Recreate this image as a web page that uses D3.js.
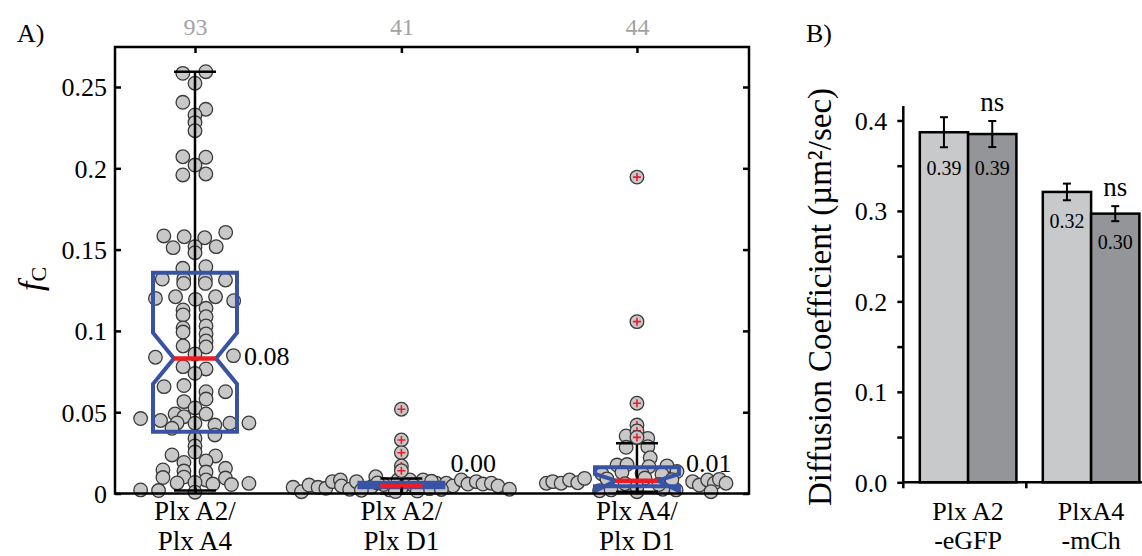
<!DOCTYPE html>
<html>
<head>
<meta charset="utf-8">
<script src="https://cdn.jsdelivr.net/npm/d3@7"></script>
<style>
  html, body { margin: 0; padding: 0; background: #fff; }
  svg { display: block; font-family: "Liberation Serif", "Times New Roman", serif; }
</style>
</head>
<body>
<svg id="chart" width="1142" height="556"></svg>
<script>
// ---- panel A : f_c per pair ----
const catLinesA = [["Plx A2/", "Plx A4"], ["Plx A2/", "Plx D1"], ["Plx A4/", "Plx D1"]];
const countsA = [93, 41, 44];
const posA = [1, 1.934, 3];
const medLabelsA = ["0.08", "0.00", "0.01"];
const yTicksA = [0, 0.05, 0.1, 0.15, 0.2, 0.25];

const q1A = [0.0380, 0.0038, 0.0045];
const q3A = [0.1358, 0.0066, 0.0162];
const medA = [0.0831, 0.0046, 0.0079];
const notchLoA = [0.0673, 0.0040, 0.0015];
const notchHiA = [0.0989, 0.0052, 0.0120];
const whiskLoA = [0.0018, 0, 0.0011];
const whiskHiA = [0.2594, 0.0093, 0.0309];

// [offset from group position (x units), f_c]
const pointsA1 = [
  [-0.055,0.2584],[0.049,0.2594],[0,0.2523],[-0.055,0.2406],[0.049,0.2363],[0,0.2328],[0,0.2281],[0,0.2231],
  [-0.055,0.2071],[0.049,0.2068],[0,0.2020],[-0.055,0.1959],[0.049,0.1965],
  [-0.141,0.1584],[-0.049,0.1579],[0.044,0.1573],[0.139,0.1606],[-0.099,0.1512],[0,0.1518],[0,0.1481],[0.096,0.1518],
  [-0.055,0.1385],[0.049,0.1395],
  [-0.148,0.1319],[-0.051,0.1319],[0.047,0.1319],[0.138,0.1313],[-0.051,0.1292],[0.047,0.1292],
  [-0.179,0.1200],[-0.088,0.1210],[0.002,0.1194],[0.093,0.1210],[0.175,0.1186],
  [-0.054,0.1129],[-0.054,0.1098],[-0.054,0.1018],[-0.054,0.0993],[-0.054,0.0907],
  [0.050,0.1139],[0.050,0.1087],[0.050,0.1030],[0.050,0.0981],[0.050,0.0938],[0.050,0.0901],
  [-0.179,0.0838],[0.174,0.0848],[-0.054,0.0780],[0.050,0.0766],[0,0.0739],[0,0.0858],
  [-0.140,0.0657],[-0.050,0.0664],[0.050,0.0626],[0.050,0.0581],[0.138,0.0626],[-0.050,0.0565],[0,0.0526],
  [-0.090,0.0489],[-0.050,0.0472],[0.050,0.0489],[-0.246,0.0461],[-0.156,0.0449],[-0.081,0.0434],[0,0.0432],
  [0.090,0.0421],[0.158,0.0432],[0.244,0.0434],[-0.104,0.0401],[0.090,0.0360],
  [0,0.0339],[0,0.0292],[0,0.0255],[-0.104,0.0237],[0.093,0.0231],[-0.050,0.0191],[0.050,0.0200],
  [-0.145,0.0145],[-0.050,0.0138],[0.050,0.0132],[0.138,0.0155],
  [-0.145,0.0098],[-0.050,0.0101],[0.050,0.0083],[0.138,0.0095],
  [-0.246,0.0022],[-0.165,0.0018],[-0.081,0.0065],[0,0.0068],[0.081,0.0058],[0.165,0.0055],[0.244,0.0062],
  [0,0.0008]
];
const pointsA2 = [
  [-0.490,0.0038],[-0.452,0.0011],[-0.418,0.0052],[-0.377,0.0038],[-0.342,0.0032],[-0.312,0.0073],
  [-0.276,0.0083],[-0.271,0.0046],[-0.234,0.0026],[-0.203,0.0073],[-0.116,0.0103],[-0.053,0.0022],
  [-0.015,0.0083],[0.038,0.0083],[0.098,0.0083],[0.158,0.0063],[0.203,0.0063],[0.233,0.0046],
  [0.271,0.0083],[0.301,0.0058],[0.339,0.0073],[0.369,0.0058],[0.407,0.0063],[0.437,0.0046],[0.489,0.0026],
  [-0.136,0.0040],[-0.081,0.0055],[0,0.0035],[0.054,0.0050],[0.127,0.0030],[-0.181,0.0020],
  [0.181,0.0025],[-0.027,0.0012],[0.072,0.0015],[-0.108,0.0065],[0.136,0.0075]
];
const pointsA3 = [
  [-0.049,0.0354],[0.049,0.0339],[-0.049,0.0284],[0.049,0.0288],[0.060,0.0220],
  [-0.090,0.0175],[-0.045,0.0178],[0.054,0.0165],[0.136,0.0170],
  [-0.158,0.0120],[-0.068,0.0130],[0.023,0.0125],[0.113,0.0118],[0.181,0.0135],
  [-0.410,0.0063],[-0.381,0.0073],[-0.343,0.0063],[-0.305,0.0083],[-0.268,0.0066],[-0.237,0.0093],
  [0.252,0.0073],[0.282,0.0052],[0.320,0.0083],[0.350,0.0063],[0.373,0.0087],[0.403,0.0063],[0.335,0.0011],
  [-0.169,0.0017],[-0.117,0.0022],[0,0.0011],[0.177,0.0022],[0.117,0.0026],
  [-0.136,0.0090],[-0.054,0.0060],[0.036,0.0095],[0.099,0.0055],[0.158,0.0085],[0,0.0040]
];
const pointsA = [pointsA1, pointsA2, pointsA3];
const outliersA = [[], [0.0518, 0.0329, 0.0251, 0.0169, 0.0140], [0.1946, 0.1057, 0.0555, 0.0421, 0.0385, 0.0345]];

// ---- panel B : diffusion coefficient ----
const catLinesB = [["Plx A2", "-eGFP"], ["PlxA4", "-mCh"]];
const valuesB = [[0.387, 0.385], [0.321, 0.297]];
const errorsB = [[0.0166, 0.0144], [0.0092, 0.0083]];
const labelsB = [["0.39", "0.39"], ["0.32", "0.30"]];
const sigB = ["ns", "ns"];
const yTicksB = [0, 0.05, 0.1, 0.15, 0.2, 0.25, 0.3, 0.35, 0.4];

const blue = "#3953a4", red = "#ed1c24";
const barFill = ["#c8c9cb", "#939598"];

const svg = d3.select("#chart");
svg.append("rect").attr("width", 1142).attr("height", 556).attr("fill", "#fff");

// ================= panel A =================
const xA = d3.scaleLinear().domain([0.638, 3.507]).range([115, 749]);
const yA = d3.scaleLinear().domain([0, 0.2746]).range([493.5, 47]);
const halfBox = 0.19, halfNotch = 0.095;

const gA = svg.append("g");

// scatter
pointsA.forEach((pts, i) => {
  gA.append("g").selectAll("circle")
    .data(pts)
    .join("circle")
    .attr("cx", d => xA(posA[i] + d[0]))
    .attr("cy", d => yA(d[1]))
    .attr("r", 6.8)
    .attr("fill", "#c8c8c8")
    .attr("stroke", "#3a3a3a")
    .attr("stroke-width", 1.3);
});

// whiskers
posA.forEach((p, i) => {
  const w = gA.append("g").attr("stroke", "#000").attr("stroke-width", 2.5);
  w.append("line").attr("x1", xA(p)).attr("x2", xA(p))
    .attr("y1", yA(whiskLoA[i])).attr("y2", yA(whiskHiA[i]));
  [whiskLoA[i], whiskHiA[i]].forEach(v => {
    w.append("line").attr("x1", xA(p - halfNotch)).attr("x2", xA(p + halfNotch))
      .attr("y1", yA(v)).attr("y2", yA(v));
  });
});

// notched boxes
posA.forEach((p, i) => {
  const L = xA(p - halfBox), R = xA(p + halfBox);
  const li = xA(p - halfNotch), ri = xA(p + halfNotch);
  const pts = [
    [L, yA(q1A[i])], [L, yA(notchLoA[i])], [li, yA(medA[i])], [L, yA(notchHiA[i])], [L, yA(q3A[i])],
    [R, yA(q3A[i])], [R, yA(notchHiA[i])], [ri, yA(medA[i])], [R, yA(notchLoA[i])], [R, yA(q1A[i])]
  ];
  gA.append("path")
    .attr("d", d3.line()(pts) + "Z")
    .attr("fill", "none")
    .attr("stroke", blue)
    .attr("stroke-width", 4)
    .attr("stroke-linejoin", "miter");
  gA.append("line")
    .attr("x1", li).attr("x2", ri)
    .attr("y1", yA(medA[i])).attr("y2", yA(medA[i]))
    .attr("stroke", red).attr("stroke-width", 4.5);
  gA.append("text")
    .attr("x", R + 7)
    .attr("y", Math.min(yA(medA[i]) + 7, yA(0) - 22))
    .attr("font-size", 26)
    .text(medLabelsA[i]);
});

// outliers
posA.forEach((p, i) => {
  const og = gA.append("g").selectAll("g").data(outliersA[i]).join("g")
    .attr("transform", d => `translate(${xA(p)},${yA(d)})`);
  og.append("circle").attr("r", 6.8).attr("fill", "#c8c8c8")
    .attr("stroke", "#3a3a3a").attr("stroke-width", 1.3);
  og.append("path").attr("d", "M-4,0H4M0,-4V4").attr("stroke", red).attr("stroke-width", 1.6);
});

// frame + axes
gA.append("rect").attr("x", 115).attr("y", 47).attr("width", 634).attr("height", 446.5)
  .attr("fill", "none").attr("stroke", "#000").attr("stroke-width", 2.5);

const axL = gA.append("g").attr("transform", "translate(115,0)")
  .call(d3.axisLeft(yA).tickValues(yTicksA).tickSize(-6).tickSizeOuter(0).tickPadding(8)
    .tickFormat(d => d3.format("~g")(d)));
const axR = gA.append("g").attr("transform", "translate(749,0)")
  .call(d3.axisRight(yA).tickValues(yTicksA).tickSize(-6).tickSizeOuter(0).tickFormat(""));
const axT = gA.append("g").attr("transform", "translate(0,47)")
  .call(d3.axisTop(xA).tickValues(posA).tickSize(-6).tickSizeOuter(0).tickPadding(12)
    .tickFormat((d, i) => countsA[i]));
const axB = gA.append("g").attr("transform", "translate(0,493.5)")
  .call(d3.axisBottom(xA).tickValues(posA).tickSize(-6).tickSizeOuter(0).tickFormat(""));

[axL, axR, axT, axB].forEach(a => {
  a.attr("font-family", null).attr("font-size", 26);
  a.select(".domain").remove();
  a.selectAll(".tick line").attr("stroke", "#000").attr("stroke-width", 2.5);
  a.selectAll("text").attr("fill", "#000");
});
axT.selectAll("text").attr("font-size", 24).attr("fill", "#a3a3a3").attr("dy", 0);
axL.selectAll("text").attr("dy", "0.34em");

posA.forEach((p, i) => {
  const t = gA.append("text").attr("text-anchor", "middle").attr("font-size", 27);
  catLinesA[i].forEach((ln, j) => {
    t.append("tspan").attr("x", xA(p)).attr("y", 520 + j * 30).text(ln);
  });
});

const fc = gA.append("text").attr("transform", "translate(42,279) rotate(-90)").attr("text-anchor", "middle");
fc.append("tspan").attr("font-style", "italic").attr("font-size", 34).text("f");
fc.append("tspan").attr("font-size", 22).attr("dy", 4).text("C");

gA.append("text").attr("x", 17).attr("y", 42).attr("font-size", 26).text("A)");

// ================= panel B =================
const yB = d3.scaleLinear().domain([0, 0.416]).range([482.3, 106]);
const x0 = d3.scaleBand().domain(d3.range(catLinesB.length)).range([903.3, 903.3 + 2 * 123]);
const x1 = d3.scaleBand().domain([0, 1]).range([16.5, 16.5 + 96.6]);

const gB = svg.append("g");

valuesB.forEach((vals, g) => {
  vals.forEach((v, s) => {
    const bx = x0(g) + x1(s);
    const cx = bx + x1.bandwidth() / 2;
    gB.append("rect")
      .attr("x", bx).attr("y", yB(v))
      .attr("width", x1.bandwidth()).attr("height", yB(0) - yB(v))
      .attr("fill", barFill[s]).attr("stroke", "#000").attr("stroke-width", 2.5);
    const e = errorsB[g][s];
    const eg = gB.append("g").attr("stroke", "#000").attr("stroke-width", 2);
    eg.append("line").attr("x1", cx).attr("x2", cx).attr("y1", yB(v - e)).attr("y2", yB(v + e));
    [v - e, v + e].forEach(y => {
      eg.append("line").attr("x1", cx - 4).attr("x2", cx + 4).attr("y1", yB(y)).attr("y2", yB(y));
    });
    gB.append("text")
      .attr("x", cx).attr("y", yB(v - e) + 28)
      .attr("text-anchor", "middle").attr("font-size", 20)
      .text(labelsB[g][s]);
    if (s === 1) {
      gB.append("text")
        .attr("x", cx).attr("y", yB(v + e) - 10)
        .attr("text-anchor", "middle").attr("font-size", 27)
        .text(sigB[g]);
    }
  });
});

const axYB = gB.append("g").attr("transform", "translate(903.3,0)")
  .call(d3.axisLeft(yB).tickValues(yTicksB).tickSize(6).tickSizeOuter(0).tickPadding(10)
    .tickFormat(d => (Math.round(d * 100) % 10 === 0 ? d3.format(".1f")(d) : "")));
axYB.attr("font-family", null).attr("font-size", 26);
axYB.select(".domain").attr("d", `M0,${yB(0)}V${yB.range()[1]}`).attr("stroke", "#000").attr("stroke-width", 2.5);
axYB.selectAll(".tick line").attr("stroke", "#000").attr("stroke-width", 2.5);
axYB.selectAll("text").attr("fill", "#000").attr("dy", "0.34em");

gB.append("line").attr("x1", 903.3).attr("x2", 1142).attr("y1", yB(0)).attr("y2", yB(0))
  .attr("stroke", "#000").attr("stroke-width", 2.5);
x0.domain().forEach(g => {
  gB.append("line").attr("x1", x0(g)).attr("x2", x0(g)).attr("y1", yB(0)).attr("y2", yB(0) + 6)
    .attr("stroke", "#000").attr("stroke-width", 2.5);
});

catLinesB.forEach((lines, g) => {
  const cx = x0(g) + x1.range()[0] + (x1.range()[1] - x1.range()[0]) / 2;
  const t = gB.append("text").attr("text-anchor", "middle").attr("font-size", 26);
  lines.forEach((ln, j) => {
    t.append("tspan").attr("x", cx).attr("y", 520 + j * 29).text(ln);
  });
});

gB.append("text").attr("transform", "translate(831,297) rotate(-90)")
  .attr("text-anchor", "middle").attr("font-size", 33)
  .text("Diffusion Coefficient (µm²/sec)");

gB.append("text").attr("x", 806).attr("y", 42).attr("font-size", 26).text("B)");
</script>
</body>
</html>
